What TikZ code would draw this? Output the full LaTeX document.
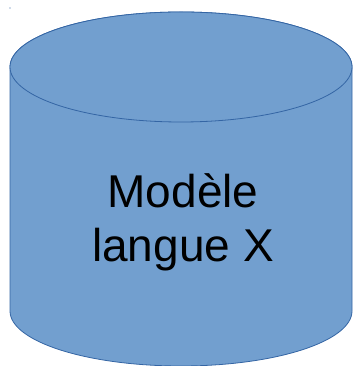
\documentclass[tikz,border=0pt]{standalone}
\usepackage{fontspec}
\setmainfont{Liberation Sans}
\definecolor{cylfill}{HTML}{729FCF}
\definecolor{cylline}{HTML}{3465A4}
\begin{document}
\begin{tikzpicture} [x=1pt, y=1pt]
    \tikzstyle{every node}=[align = center]
    \tikzstyle{cyl} = [fill=cylfill, draw=cylline, line width=0.8pt]
    \tikzstyle{label} = [font=\fontsize{46}{54}\selectfont, inner sep=0pt]
    \useasboundingbox (0,0) rectangle (354,366);
    \fill[cylline] (10,358) circle (0.6);
    % body and bottom
    \path[cyl] (10,299) -- (10,55) arc[start angle=180, end angle=360, x radius=171pt, y radius=55pt]
        -- (352,299) arc[start angle=0, end angle=180, x radius=171pt, y radius=55pt] -- cycle;
    % top face
    \path[cyl] (181,299) ellipse[x radius=171pt, y radius=55pt];
    \node[label, anchor=base] (modele) at (183,104) {Modèle\\langue X};
\end{tikzpicture}
\end{document}
